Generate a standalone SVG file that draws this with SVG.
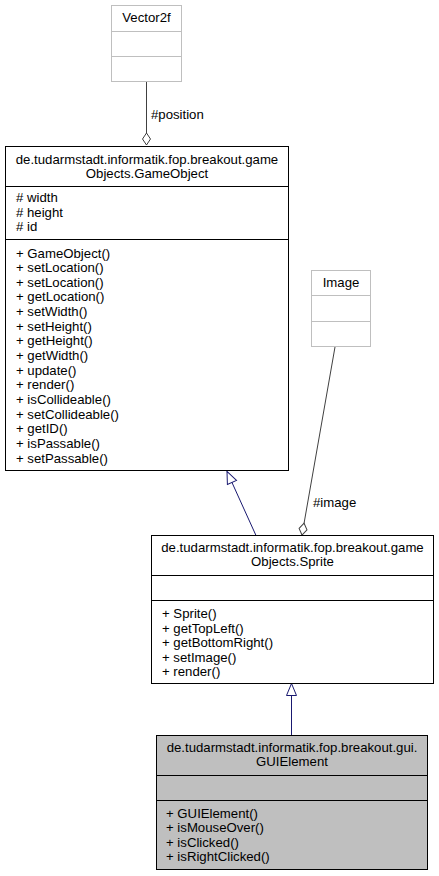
<svg xmlns="http://www.w3.org/2000/svg" width="439" height="876" viewBox="0 0 439 876">
  <style>
    .box { fill: #ffffff; stroke: #000000; stroke-width: 1; }
    .ext { fill: #ffffff; stroke: #bfbfbf; stroke-width: 1; }
    .hl { fill: #bfbfbf; stroke: #000000; stroke-width: 1; }
    .sep { stroke: #000000; stroke-width: 1; }
    .sepx { stroke: #bfbfbf; stroke-width: 1; }
    text { font-family: "Liberation Sans", Arial, Helvetica, sans-serif; font-size: 13.2px; fill: #000000; }
    .c { text-anchor: middle; }
    .agg { stroke: #404040; stroke-width: 1; fill: none; }
    .gen { stroke: #191970; stroke-width: 1; fill: none; }
  </style>
  <defs>
    <marker id="diamond" markerWidth="14" markerHeight="10" refX="13" refY="5" orient="auto" markerUnits="userSpaceOnUse">
      <path d="M1,5 L7,1 L13,5 L7,9 Z" fill="#ffffff" stroke="#404040" stroke-width="1"/>
    </marker>
    <marker id="tri" markerWidth="14" markerHeight="12" refX="13" refY="6" orient="auto" markerUnits="userSpaceOnUse">
      <path d="M1,1 L13,6 L1,11 Z" fill="#ffffff" stroke="#191970" stroke-width="1"/>
    </marker>
  </defs>

  <g id="connectors">
    <line class="agg" x1="146.5" y1="82" x2="146.5" y2="145" marker-end="url(#diamond)"/>
    <text x="151" y="119">#position</text>
    <line class="agg" x1="335" y1="347" x2="302" y2="535" marker-end="url(#diamond)"/>
    <text x="313" y="507">#image</text>
    <line class="gen" x1="256" y1="535.5" x2="227" y2="471.5" marker-end="url(#tri)"/>
    <line class="gen" x1="291.5" y1="735.5" x2="291.5" y2="683.5" marker-end="url(#tri)"/>
  </g>

  <g id="Vector2f">
    <rect class="ext" x="111.5" y="5.5" width="70" height="76"/>
    <line class="sepx" x1="111.5" y1="31.5" x2="181.5" y2="31.5"/>
    <line class="sepx" x1="111.5" y1="56.5" x2="181.5" y2="56.5"/>
    <text class="c" x="146.5" y="22">Vector2f</text>
  </g>

  <g id="GameObject">
    <rect class="box" x="5.5" y="146.5" width="283" height="324"/>
    <line class="sep" x1="5.5" y1="186.5" x2="288.5" y2="186.5"/>
    <line class="sep" x1="5.5" y1="239.5" x2="288.5" y2="239.5"/>
    <text class="c" x="147" y="163.5">de.tudarmstadt.informatik.fop.breakout.game</text>
    <text class="c" x="147" y="178.2">Objects.GameObject</text>
    <text x="16" y="202"># width</text>
    <text x="16" y="216.5"># height</text>
    <text x="16" y="231"># id</text>
    <text x="16" y="257.5">+ GameObject()</text>
    <text x="16" y="272.1">+ setLocation()</text>
    <text x="16" y="286.8">+ setLocation()</text>
    <text x="16" y="301.4">+ getLocation()</text>
    <text x="16" y="316.1">+ setWidth()</text>
    <text x="16" y="330.7">+ setHeight()</text>
    <text x="16" y="345.3">+ getHeight()</text>
    <text x="16" y="360">+ getWidth()</text>
    <text x="16" y="374.6">+ update()</text>
    <text x="16" y="389.3">+ render()</text>
    <text x="16" y="403.9">+ isCollideable()</text>
    <text x="16" y="418.5">+ setCollideable()</text>
    <text x="16" y="433.2">+ getID()</text>
    <text x="16" y="447.8">+ isPassable()</text>
    <text x="16" y="462.5">+ setPassable()</text>
  </g>

  <g id="Image">
    <rect class="ext" x="311.5" y="270.5" width="59" height="76"/>
    <line class="sepx" x1="311.5" y1="295.5" x2="370.5" y2="295.5"/>
    <line class="sepx" x1="311.5" y1="321.5" x2="370.5" y2="321.5"/>
    <text class="c" x="341" y="287">Image</text>
  </g>

  <g id="Sprite">
    <rect class="box" x="151.5" y="535.5" width="282" height="148"/>
    <line class="sep" x1="151.5" y1="575.5" x2="433.5" y2="575.5"/>
    <line class="sep" x1="151.5" y1="600.5" x2="433.5" y2="600.5"/>
    <text class="c" x="292.5" y="551.5">de.tudarmstadt.informatik.fop.breakout.game</text>
    <text class="c" x="292.5" y="566.2">Objects.Sprite</text>
    <text x="162" y="618">+ Sprite()</text>
    <text x="162" y="632.5">+ getTopLeft()</text>
    <text x="162" y="647">+ getBottomRight()</text>
    <text x="162" y="661.5">+ setImage()</text>
    <text x="162" y="676">+ render()</text>
  </g>

  <g id="GUIElement">
    <rect class="hl" x="156.5" y="735.5" width="271" height="134"/>
    <line class="sep" x1="156.5" y1="775.5" x2="427.5" y2="775.5"/>
    <line class="sep" x1="156.5" y1="800.5" x2="427.5" y2="800.5"/>
    <text class="c" x="292" y="751.5">de.tudarmstadt.informatik.fop.breakout.gui.</text>
    <text class="c" x="292" y="766.2">GUIElement</text>
    <text x="166" y="817.5">+ GUIElement()</text>
    <text x="166" y="832">+ isMouseOver()</text>
    <text x="166" y="846.5">+ isClicked()</text>
    <text x="166" y="861">+ isRightClicked()</text>
  </g>
</svg>
